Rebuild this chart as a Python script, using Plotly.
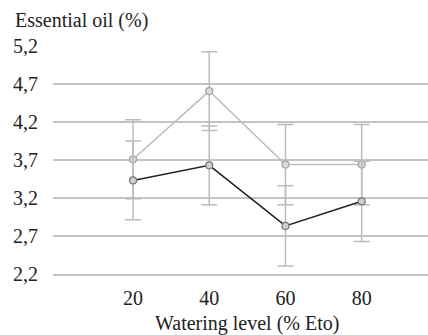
import plotly.graph_objects as go

watering = [20, 40, 60, 80]
oil_light = [3.71, 4.61, 3.64, 3.64]
err_light = [0.52, 0.52, 0.53, 0.53]
oil_dark = [3.43, 3.63, 2.83, 3.155]
err_dark = [0.52, 0.52, 0.53, 0.53]
y_ticks = [2.2, 2.7, 3.2, 3.7, 4.2, 4.7, 5.2]

FONT = "'Liberation Serif', 'DejaVu Serif', serif"
fig = go.Figure()
fig.add_trace(go.Scatter(
    x=watering, y=oil_light, mode="lines+markers",
    line=dict(color="#bdbdbd", width=1.5),
    marker=dict(symbol="circle", size=7, color="#d9d9d9", line=dict(color="#a0a0a0", width=1.2)),
    error_y=dict(type="data", array=err_light, color="#bcbcbc", thickness=1.5, width=8),
    showlegend=False))
fig.add_trace(go.Scatter(
    x=watering, y=oil_dark, mode="lines+markers",
    line=dict(color="#222222", width=1.5),
    marker=dict(symbol="circle", size=7, color="#cfcfcf", line=dict(color="#777777", width=1.2)),
    error_y=dict(type="data", array=err_dark, color="#bcbcbc", thickness=1.5, width=8),
    showlegend=False))

fig.update_layout(
    width=428, height=335,
    margin=dict(l=53, r=0, t=46, b=61),
    paper_bgcolor="white", plot_bgcolor="white",
    separators=", ",
    font=dict(family=FONT, size=20, color="#222222"),
    xaxis=dict(range=[-1, 97.4], tickvals=watering, ticktext=[str(v) for v in watering],
               showgrid=False, zeroline=False, showline=True, linecolor="#c4c4c4",
               linewidth=1.5, automargin=False, ticks="", ticklabelstandoff=5),
    yaxis=dict(range=[2.195, 5.205], tickvals=y_ticks, tickformat=".1f",
               showgrid=True, gridcolor="#c4c4c4", gridwidth=1.5, automargin=False,
               zeroline=False, showline=False, ticks="", ticklabelstandoff=14),
    annotations=[
        dict(text="Essential oil (%)", xref="paper", yref="paper",
             x=-40/375, y=1 + 26/228, xanchor="left", yanchor="middle",
             showarrow=False, font=dict(family=FONT, size=20, color="#222222")),
        dict(text="Watering level (% Eto)", xref="x", yref="paper",
             x=50, y=-49/228, xanchor="center", yanchor="middle",
             showarrow=False, font=dict(family=FONT, size=20, color="#222222")),
    ],
)
fig.write_html("out.html", config={"displayModeBar": False},
               post_script="document.body.style.margin='0';document.body.style.overflow='hidden';")
